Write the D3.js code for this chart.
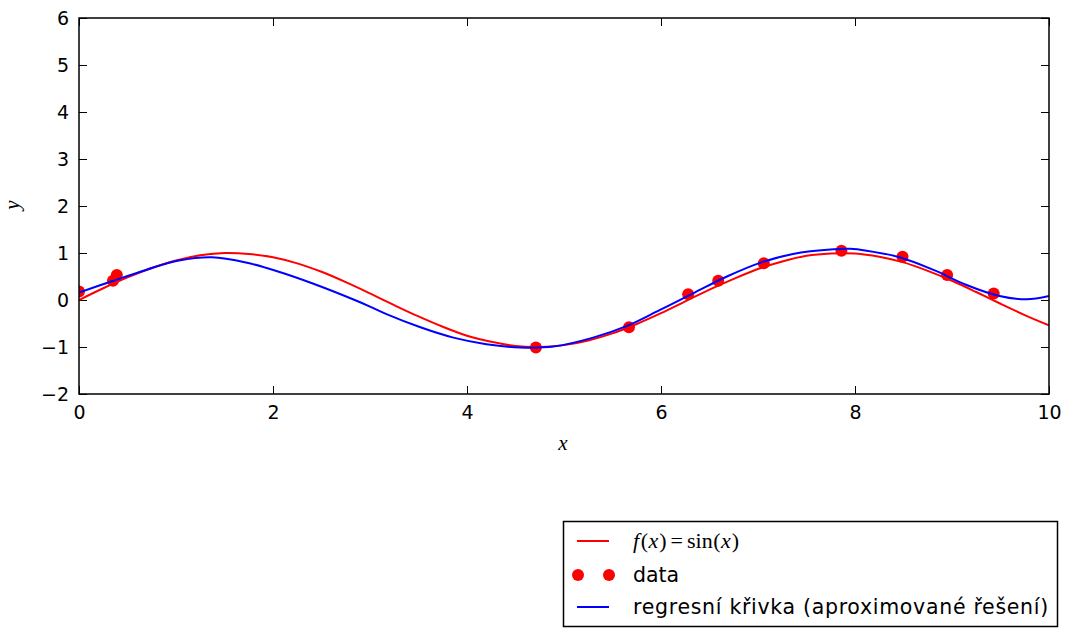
<!DOCTYPE html>
<html>
<head>
<meta charset="utf-8">
<script src="https://cdn.jsdelivr.net/npm/d3@7"></script>
<style>
  html, body { margin: 0; padding: 0; background: #fff; }
  svg { display: block; }
  .tick text { font-family: "DejaVu Sans", sans-serif; }
</style>
</head>
<body>
<svg id="chart" width="1070" height="628"></svg>
<script>
// Measured samples
const dataX = [0.0, 0.35, 0.39, 4.71, 5.67, 6.28, 6.59, 7.06, 7.86, 8.49, 8.95, 9.43];
const dataY = [0.18, 0.41, 0.53, -1.01, -0.58, 0.12, 0.41, 0.78, 1.05, 0.92, 0.53, 0.14];

// f(x) = sin(x), tabulated every 0.25
const sinX = [0, 0.25, 0.5, 0.75, 1.0, 1.25, 1.5, 1.75, 2.0, 2.25, 2.5, 2.75, 3.0, 3.25, 3.5, 3.75, 4.0, 4.25, 4.5, 4.75, 5.0,
              5.25, 5.5, 5.75, 6.0, 6.25, 6.5, 6.75, 7.0, 7.25, 7.5, 7.75, 8.0, 8.25, 8.5, 8.75, 9.0, 9.25, 9.5, 9.75, 10.0];
const sinY = [0, 0.25, 0.48, 0.68, 0.84, 0.95, 1.0, 0.98, 0.91, 0.78, 0.6, 0.38, 0.14, -0.11, -0.35, -0.57, -0.76, -0.89, -0.98, -1.0, -0.96,
              -0.86, -0.71, -0.51, -0.28, -0.03, 0.22, 0.45, 0.66, 0.82, 0.94, 0.99, 0.99, 0.92, 0.8, 0.62, 0.41, 0.17, -0.08, -0.32, -0.54];

// regression curve (approximate solution)
const regX = [0, 0.34, 0.69, 1.03, 1.37, 1.72, 2.06, 2.41, 2.83, 3.0, 3.17, 3.52, 3.86, 4.20, 4.55, 4.89, 5.30, 5.65, 5.99, 6.33, 6.68, 7.02, 7.36, 7.78, 7.95, 8.12, 8.46, 8.81, 9.15, 9.49, 9.77, 10.0];
const regY = [0.16, 0.40, 0.64, 0.84, 0.91, 0.80, 0.60, 0.35, 0.01, -0.14, -0.30, -0.58, -0.80, -0.94, -1.01, -0.99, -0.80, -0.55, -0.21, 0.14, 0.50, 0.79, 0.98, 1.08, 1.09, 1.05, 0.91, 0.64, 0.32, 0.085, 0.015, 0.085];

const xTicks = [0, 2, 4, 6, 8, 10];
const yTicks = [-2, -1, 0, 1, 2, 3, 4, 5, 6];

const svg = d3.select("#chart");
const plotL = 79, plotR = 1049, plotT = 18, plotB = 394;
const x = d3.scaleLinear().domain([0, 10]).range([plotL, plotR]);
const y = d3.scaleLinear().domain([-2, 6]).range([plotB, plotT]);

svg.append("defs").append("clipPath").attr("id", "plotclip")
  .append("rect").attr("x", plotL).attr("y", plotT).attr("width", plotR - plotL).attr("height", plotB - plotT);

const tickFont = 19;
const tickLen = 8;
const fmt = d => d < 0 ? "\u2212" + Math.abs(d) : String(d);

// Axes (ticks pointing inward on all four sides)
const gxB = svg.append("g").attr("transform", `translate(0,${plotB})`)
  .call(d3.axisBottom(x).tickValues(xTicks).tickFormat(fmt).tickSizeInner(-tickLen).tickSizeOuter(0).tickPadding(12));
const gxT = svg.append("g").attr("transform", `translate(0,${plotT})`)
  .call(d3.axisTop(x).tickValues(xTicks).tickFormat("").tickSizeInner(-tickLen).tickSizeOuter(0));
const gyL = svg.append("g").attr("transform", `translate(${plotL},0)`)
  .call(d3.axisLeft(y).tickValues(yTicks).tickFormat(fmt).tickSizeInner(-tickLen).tickSizeOuter(0).tickPadding(10));
const gyR = svg.append("g").attr("transform", `translate(${plotR},0)`)
  .call(d3.axisRight(y).tickValues(yTicks).tickFormat("").tickSizeInner(-tickLen).tickSizeOuter(0));

[gxB, gxT, gyL, gyR].forEach(g => {
  g.select(".domain").remove();
  g.selectAll(".tick line").attr("stroke", "#000").attr("stroke-width", 1);
  g.selectAll(".tick text").attr("font-size", tickFont).attr("fill", "#000");
});
gxB.selectAll(".tick text").attr("dy", "0.71em");
gyL.selectAll(".tick text").attr("dy", "0.36em");

// Curves and points, clipped to the axes area
const plot = svg.append("g").attr("clip-path", "url(#plotclip)");
const line = d3.line().x(d => x(d[0])).y(d => y(d[1])).curve(d3.curveCatmullRom.alpha(0.5));

plot.append("path").datum(d3.zip(sinX, sinY))
  .attr("d", line).attr("fill", "none").attr("stroke", "#ff0000").attr("stroke-width", 2);

plot.append("g").selectAll("circle").data(d3.zip(dataX, dataY)).join("circle")
  .attr("cx", d => x(d[0])).attr("cy", d => y(d[1])).attr("r", 6).attr("fill", "#ff0000");

plot.append("path").datum(d3.zip(regX, regY))
  .attr("d", line).attr("fill", "none").attr("stroke", "#0000ff").attr("stroke-width", 2);

// Frame
svg.append("rect").attr("x", plotL).attr("y", plotT).attr("width", plotR - plotL).attr("height", plotB - plotT)
  .attr("fill", "none").attr("stroke", "#000").attr("stroke-width", 1.5);

// Axis labels
const mathFont = "'Liberation Serif', 'DejaVu Serif', serif";
svg.append("text").attr("x", 563).attr("y", 450).attr("text-anchor", "middle")
  .attr("font-family", mathFont).attr("font-style", "italic").attr("font-size", 21).text("x");
svg.append("text").attr("transform", "translate(19,205) rotate(-90)").attr("text-anchor", "middle")
  .attr("font-family", mathFont).attr("font-style", "italic").attr("font-size", 21).text("y");

// Legend
const lg = svg.append("g");
lg.append("rect").attr("x", 563.5).attr("y", 521.5).attr("width", 494).attr("height", 105)
  .attr("fill", "#fff").attr("stroke", "#000").attr("stroke-width", 1.5);

const rows = [541, 575, 607];
lg.append("line").attr("x1", 577).attr("x2", 609).attr("y1", rows[0]).attr("y2", rows[0])
  .attr("stroke", "#ff0000").attr("stroke-width", 2);
[578, 609].forEach(cx => lg.append("circle").attr("cx", cx).attr("cy", rows[1]).attr("r", 6).attr("fill", "#ff0000"));
lg.append("line").attr("x1", 577).attr("x2", 609).attr("y1", rows[2]).attr("y2", rows[2])
  .attr("stroke", "#0000ff").attr("stroke-width", 2);

const t1 = lg.append("text").attr("x", 633).attr("y", rows[0]).attr("dy", "0.32em")
  .attr("font-family", mathFont).attr("font-size", 22);
[["f", true, 0], ["(", false, 1.5], ["x", true, 0.5], [")", false, 1], ["=", false, 4], ["sin", false, 4], ["(", false, 0.5], ["x", true, 0.5], [")", false, 1]]
  .forEach(([s, it, dx]) => t1.append("tspan").attr("dx", dx).attr("font-style", it ? "italic" : "normal").text(s));

lg.append("text").attr("x", 633).attr("y", rows[1]).attr("dy", "0.36em")
  .attr("font-family", "'DejaVu Sans', sans-serif").attr("font-size", 20.5).text("data");
lg.append("text").attr("x", 633).attr("y", rows[2]).attr("dy", "0.36em")
  .attr("font-family", "'DejaVu Sans', sans-serif").attr("font-size", 20.5).attr("letter-spacing", 0.7)
  .text("regresní křivka (aproximované řešení)");
</script>
</body>
</html>
